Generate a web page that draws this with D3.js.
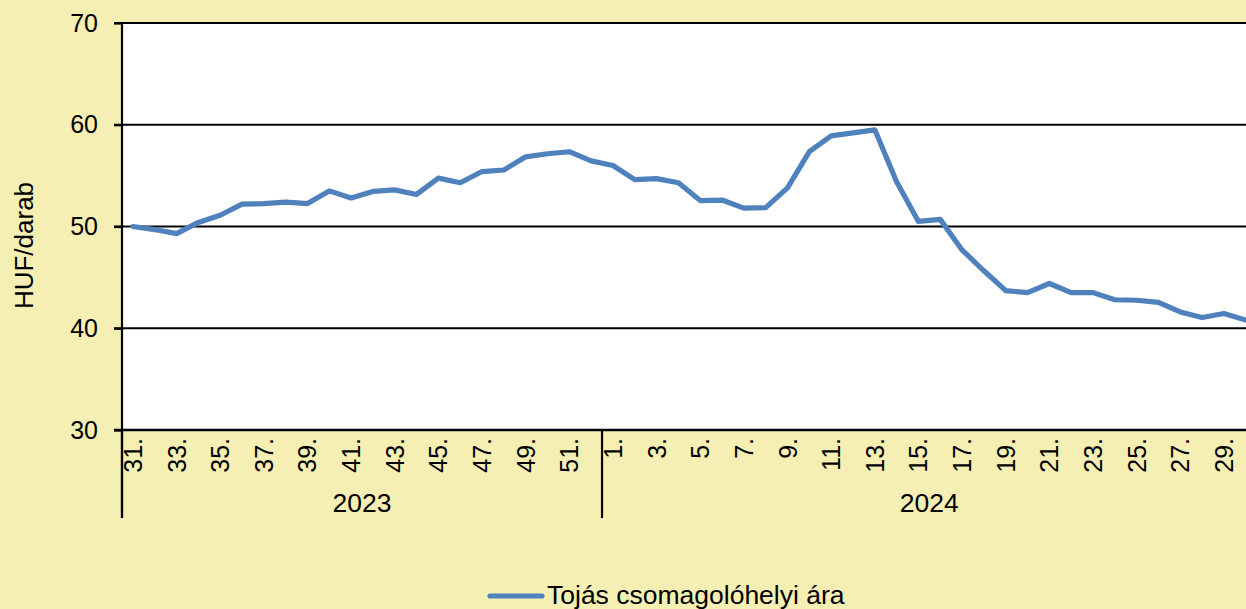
<!DOCTYPE html>
<html>
<head>
<meta charset="utf-8">
<script src="https://cdn.jsdelivr.net/npm/d3@7"></script>
<style>
  html, body { margin: 0; padding: 0; background: #f5efb4; }
  svg { display: block; }
  text { font-family: "Liberation Sans", Arial, sans-serif; fill: #000; }
</style>
</head>
<body>
<svg id="chart" width="1246" height="609"></svg>
<script>
// ---- data ----
const years = ["2023", "2024"];
const weeks2023 = d3.range(31, 53);
const weeks2024 = d3.range(1, 31);
const values2023 = [50.0, 49.7, 49.3, 50.4, 51.1, 52.2, 52.25, 52.4, 52.25, 53.5, 52.8,
                    53.45, 53.6, 53.15, 54.75, 54.3, 55.4, 55.55, 56.85, 57.15, 57.35, 56.45];
const values2024 = [56.0, 54.6, 54.7, 54.3, 52.55, 52.6, 51.8, 51.85, 53.8, 57.35, 58.9,
                    59.2, 59.5, 54.4, 50.5, 50.7, 47.7, 45.65, 43.7, 43.5, 44.4, 43.5,
                    43.5, 42.8, 42.75, 42.55, 41.6, 41.05, 41.45, 40.8];
const yTicks = [30, 40, 50, 60, 70];
const seriesName = "Tojás csomagolóhelyi ára";
const yTitle = "HUF/darab";

(function () {
const data = [
  ...weeks2023.map((w, i) => ({ key: "2023-" + w, year: "2023", week: w, value: values2023[i] })),
  ...weeks2024.map((w, i) => ({ key: "2024-" + w, year: "2024", week: w, value: values2024[i] }))
];

// ---- layout ----
const svg = d3.select("#chart");
const pLeft = 122, pTop = 23, pBottom = 430;
const step = 21.82;
const pRight = pLeft + step * data.length;

const x = d3.scalePoint().domain(data.map(d => d.key)).range([pLeft, pRight]).padding(0.5);
const y = d3.scaleLinear().domain([30, 70]).range([pBottom, pTop]);

// plot area
svg.append("rect").attr("x", pLeft).attr("y", pTop)
  .attr("width", pRight - pLeft).attr("height", pBottom - pTop).attr("fill", "#fff");

// gridlines
svg.append("g").selectAll("line").data(yTicks.filter(t => t > 30)).join("line")
  .attr("x1", pLeft - 8).attr("x2", pRight)
  .attr("y1", d => y(d)).attr("y2", d => y(d))
  .attr("stroke", "#000").attr("stroke-width", 2.2);

// y axis
const yAxis = d3.axisLeft(y).tickValues(yTicks).tickSize(8).tickPadding(16);
const gy = svg.append("g").attr("transform", `translate(${pLeft},0)`).call(yAxis);
gy.select(".domain").remove();
gy.selectAll(".tick line").attr("stroke", "#000").attr("stroke-width", 2.2);
gy.selectAll(".tick text").attr("font-size", 25).attr("font-family", "Liberation Sans, Arial, sans-serif").attr("fill", "#000");
svg.append("line").attr("x1", pLeft).attr("x2", pLeft).attr("y1", pTop).attr("y2", 518)
  .attr("stroke", "#000").attr("stroke-width", 2.2);

// x axis line
svg.append("line").attr("x1", pLeft - 8).attr("x2", pRight).attr("y1", pBottom).attr("y2", pBottom)
  .attr("stroke", "#000").attr("stroke-width", 2.5);

// week labels
const labelled = data.filter(d => d.week % 2 === 1);
svg.append("g").selectAll("text").data(labelled).join("text")
  .attr("transform", d => `translate(${x(d.key)},438) rotate(-90)`)
  .attr("text-anchor", "end").attr("dy", "0.36em")
  .attr("font-size", 25)
  .text(d => d.week + ".");

// year separators and labels
const yearInfo = years.map(yr => {
  const ds = data.filter(d => d.year === yr);
  const x0 = x(ds[0].key) - step / 2;
  const x1 = x(ds[ds.length - 1].key) + step / 2;
  return { yr, x0, x1 };
});
svg.append("g").selectAll("line").data(yearInfo).join("line")
  .attr("x1", d => d.x0).attr("x2", d => d.x0).attr("y1", pBottom).attr("y2", 518)
  .attr("stroke", "#000").attr("stroke-width", 2.2);
svg.append("g").selectAll("text").data(yearInfo).join("text")
  .attr("x", d => (d.x0 + d.x1) / 2).attr("y", 511.5)
  .attr("text-anchor", "middle").attr("font-size", 26.5)
  .text(d => d.yr);

// y title
svg.append("text").attr("transform", `translate(32.5,245.5) rotate(-90)`)
  .attr("text-anchor", "middle").attr("font-size", 26).text(yTitle);

// line
const line = d3.line().x(d => x(d.key)).y(d => y(d.value));
svg.append("path").datum(data).attr("d", line)
  .attr("fill", "none").attr("stroke", "#4f81bd").attr("stroke-width", 5.2)
  .attr("stroke-linejoin", "round").attr("stroke-linecap", "round");

// legend
const lg = svg.append("g");
lg.append("line").attr("x1", 490).attr("x2", 542).attr("y1", 596).attr("y2", 596)
  .attr("stroke", "#4f81bd").attr("stroke-width", 5.2).attr("stroke-linecap", "round");
lg.append("text").attr("x", 547).attr("y", 604).attr("font-size", 26.5).text(seriesName);
})();
</script>
</body>
</html>
